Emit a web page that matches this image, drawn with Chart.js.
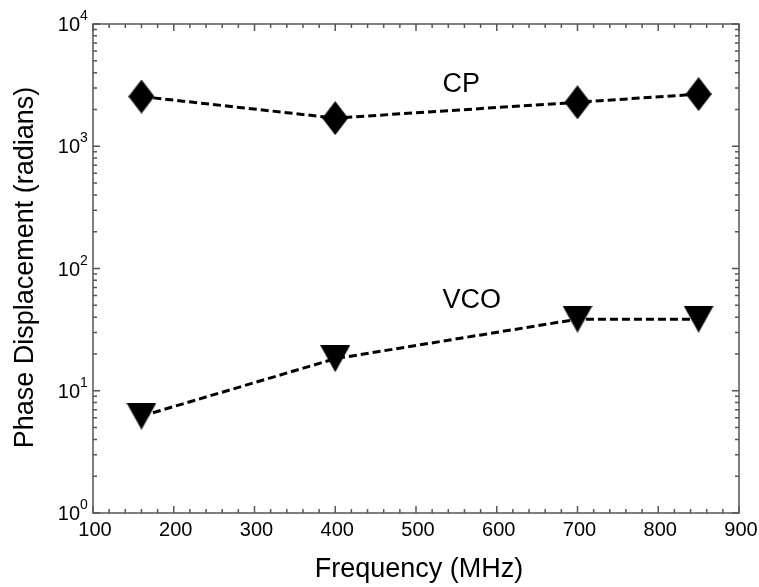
<!DOCTYPE html>
<html>
<head>
<meta charset="utf-8">
<script src="https://cdn.jsdelivr.net/npm/chart.js@4"></script>
<style>
  html, body { margin: 0; padding: 0; background: #fff; }
  #wrap { width: 759px; height: 587px; }
</style>
</head>
<body>
<div id="wrap"><canvas id="phaseChart" width="759" height="587"></canvas></div>
<script>
// frequencies (MHz)
const freqs = [160, 400, 700, 850];
// phase displacement (radians)
const cpValues = [2550, 1700, 2290, 2670];
const vcoValues = [6.2, 18.3, 38.5, 38.5];

const xTicks = [100, 200, 300, 400, 500, 600, 700, 800, 900];
const yExponents = [0, 1, 2, 3, 4];

// text labels next to the curves: [text, x, y]
const curveLabels = [
    ['CP', 556, 2770],
    ['VCO', 569, 47.9]
];

const FONT = '"Liberation Sans", Arial, sans-serif';

function makeDiamond(w, h){
    const c = document.createElement('canvas');
    c.width = w; c.height = h;
    const g = c.getContext('2d');
    g.fillStyle = '#000';
    g.beginPath();
    g.moveTo(w / 2, 0);
    g.lineTo(w, h / 2);
    g.lineTo(w / 2, h);
    g.lineTo(0, h / 2);
    g.closePath();
    g.fill();
    return c;
}

function makeTriangleDown(w, h){
    const c = document.createElement('canvas');
    c.width = w; c.height = h;
    const g = c.getContext('2d');
    g.fillStyle = '#000';
    g.beginPath();
    g.moveTo(0, 0);
    g.lineTo(w, 0);
    g.lineTo(w / 2, h);
    g.closePath();
    g.fill();
    return c;
}

// frame, inside ticks, tick labels and axis titles
const axesPlugin = {
    id: 'axesPlugin',
    afterDraw(chart){
        const ctx = chart.ctx;
        const area = chart.chartArea;
        const xs = chart.scales.x;
        const ys = chart.scales.y;

        ctx.save();
        ctx.strokeStyle = '#555';
        ctx.lineWidth = 1.5;
        ctx.strokeRect(area.left, area.top, area.right - area.left, area.bottom - area.top);

        ctx.beginPath();
        for (let v = 100; v <= 900; v += 20) {
            const px = xs.getPixelForValue(v);
            const len = (v % 100 === 0) ? 7 : 4;
            ctx.moveTo(px, area.bottom); ctx.lineTo(px, area.bottom - len);
            ctx.moveTo(px, area.top); ctx.lineTo(px, area.top + len);
        }
        yExponents.forEach(e => {
            for (let m = 1; m <= 9; m++) {
                if (e === 4 && m > 1) break;
                const py = ys.getPixelForValue(m * Math.pow(10, e));
                const len = (m === 1) ? 7 : 4;
                ctx.moveTo(area.left, py); ctx.lineTo(area.left + len, py);
                ctx.moveTo(area.right, py); ctx.lineTo(area.right - len, py);
            }
        });
        ctx.stroke();

        ctx.fillStyle = '#000';
        ctx.font = '20px ' + FONT;
        ctx.textAlign = 'center';
        ctx.textBaseline = 'alphabetic';
        xTicks.forEach(v => {
            ctx.fillText(String(v), xs.getPixelForValue(v) + 2, area.bottom + 23);
        });

        yExponents.forEach(e => {
            const py = ys.getPixelForValue(Math.pow(10, e));
            ctx.font = '20px ' + FONT;
            ctx.textAlign = 'right';
            ctx.fillText('10', area.left - 13, py + 7);
            ctx.font = '14px ' + FONT;
            ctx.textAlign = 'left';
            ctx.fillText(String(e), area.left - 13, py - 4);
        });

        ctx.font = '27px ' + FONT;
        ctx.textAlign = 'center';
        curveLabels.forEach(([t, x, y]) => {
            ctx.fillText(t, xs.getPixelForValue(x), ys.getPixelForValue(y));
        });

        ctx.fillText('Frequency (MHz)', (area.left + area.right) / 2 + 3, 577);

        ctx.translate(33, (area.top + area.bottom) / 2 - 1);
        ctx.rotate(-Math.PI / 2);
        ctx.fillText('Phase Displacement (radians)', 0, 0);
        ctx.restore();
    }
};

const diamond = makeDiamond(26, 34);
const triangle = makeTriangleDown(30, 27);

new Chart(document.getElementById('phaseChart'), {
    type: 'scatter',
    data: {
        datasets: [
            {
                label: 'CP',
                data: freqs.map((f, i) => ({ x: f, y: cpValues[i] })),
                showLine: true,
                borderColor: '#000',
                borderWidth: 3,
                borderDash: [8, 4],
                pointStyle: diamond,
                clip: false
            },
            {
                label: 'VCO',
                data: freqs.map((f, i) => ({ x: f, y: vcoValues[i] })),
                showLine: true,
                borderColor: '#000',
                borderWidth: 3,
                borderDash: [8, 4],
                pointStyle: triangle,
                clip: false
            }
        ]
    },
    options: {
        responsive: false,
        animation: false,
        layout: { padding: { top: 24, right: 20, left: 0, bottom: 0 } },
        plugins: {
            legend: { display: false },
            tooltip: { enabled: false }
        },
        scales: {
            x: {
                type: 'linear',
                min: 100,
                max: 900,
                grid: { display: false },
                border: { display: false },
                ticks: { display: false },
                afterFit(scale){ scale.height = 74; }
            },
            y: {
                type: 'logarithmic',
                min: 1,
                max: 10000,
                grid: { display: false },
                border: { display: false },
                ticks: { display: false },
                afterFit(scale){ scale.width = 93; }
            }
        }
    },
    plugins: [axesPlugin]
});
</script>
</body>
</html>
